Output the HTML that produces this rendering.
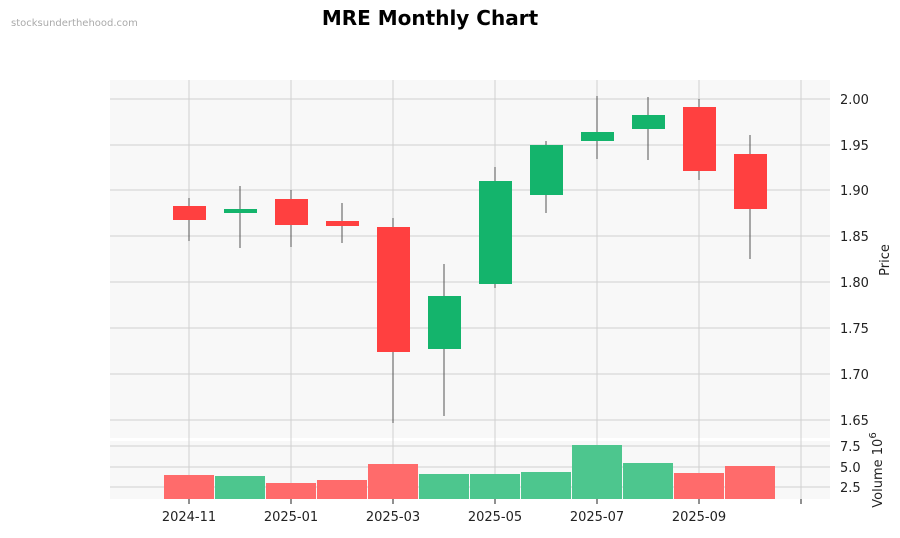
<!DOCTYPE html>
<html><head><meta charset="utf-8"><style>
body{margin:0;background:#fff;}
svg text{font-family:"DejaVu Sans","Liberation Sans",sans-serif;}
</style></head><body>
<svg width="900" height="533" xmlns="http://www.w3.org/2000/svg">
<rect width="900" height="533" fill="#fff"/>
<text x="11" y="26" font-size="10" fill="#aaa">stocksunderthehood.com</text>
<text x="430" y="25" font-size="20" font-weight="bold" text-anchor="middle" fill="#000">MRE Monthly Chart</text>
<rect x="110" y="80" width="720" height="358" fill="#f8f8f8"/>
<rect x="110" y="441" width="720" height="58" fill="#f8f8f8"/>
<g stroke="#d0d0d0" stroke-width="1">
<line x1="110" x2="830" y1="99" y2="99"/><line x1="110" x2="830" y1="145" y2="145"/>
<line x1="110" x2="830" y1="190" y2="190"/><line x1="110" x2="830" y1="236" y2="236"/>
<line x1="110" x2="830" y1="282" y2="282"/><line x1="110" x2="830" y1="328" y2="328"/>
<line x1="110" x2="830" y1="374" y2="374"/><line x1="110" x2="830" y1="420" y2="420"/>
<line x1="110" x2="830" y1="446" y2="446"/><line x1="110" x2="830" y1="467" y2="467"/><line x1="110" x2="830" y1="487" y2="487"/>
<line x1="189" x2="189" y1="80" y2="499"/><line x1="291" x2="291" y1="80" y2="499"/>
<line x1="393" x2="393" y1="80" y2="499"/><line x1="495" x2="495" y1="80" y2="499"/>
<line x1="597" x2="597" y1="80" y2="499"/><line x1="699" x2="699" y1="80" y2="499"/>
<line x1="801" x2="801" y1="80" y2="499"/>
</g>
<g stroke="#555" stroke-width="1">
<line x1="189" x2="189" y1="198" y2="241"/><line x1="240" x2="240" y1="186" y2="248"/>
<line x1="291" x2="291" y1="190" y2="247"/><line x1="342" x2="342" y1="203" y2="243"/>
<line x1="393" x2="393" y1="218" y2="423"/><line x1="444" x2="444" y1="264" y2="416"/>
<line x1="495" x2="495" y1="167" y2="288"/><line x1="546" x2="546" y1="141" y2="213"/>
<line x1="597" x2="597" y1="96" y2="159"/><line x1="648" x2="648" y1="97" y2="160"/>
<line x1="699" x2="699" y1="99" y2="180"/><line x1="750" x2="750" y1="135" y2="259"/>
</g>
<g>
<rect x="173" y="206" width="33" height="14" fill="#ff4040"/>
<rect x="224" y="209" width="33" height="4" fill="#14b46c"/>
<rect x="275" y="199" width="33" height="26" fill="#ff4040"/>
<rect x="326" y="221" width="33" height="5" fill="#ff4040"/>
<rect x="377" y="227" width="33" height="125" fill="#ff4040"/>
<rect x="428" y="296" width="33" height="53" fill="#14b46c"/>
<rect x="479" y="181" width="33" height="103" fill="#14b46c"/>
<rect x="530" y="145" width="33" height="50" fill="#14b46c"/>
<rect x="581" y="132" width="33" height="9" fill="#14b46c"/>
<rect x="632" y="115" width="33" height="14" fill="#14b46c"/>
<rect x="683" y="107" width="33" height="64" fill="#ff4040"/>
<rect x="734" y="154" width="33" height="55" fill="#ff4040"/>
</g>
<g>
<rect x="164" y="475" width="50" height="24" fill="#ff6b6b"/>
<rect x="215" y="476" width="50" height="23" fill="#4dc68e"/>
<rect x="266" y="483" width="50" height="16" fill="#ff6b6b"/>
<rect x="317" y="480" width="50" height="19" fill="#ff6b6b"/>
<rect x="368" y="464" width="50" height="35" fill="#ff6b6b"/>
<rect x="419" y="474" width="50" height="25" fill="#4dc68e"/>
<rect x="470" y="474" width="50" height="25" fill="#4dc68e"/>
<rect x="521" y="472" width="50" height="27" fill="#4dc68e"/>
<rect x="572" y="445" width="50" height="54" fill="#4dc68e"/>
<rect x="623" y="463" width="50" height="36" fill="#4dc68e"/>
<rect x="674" y="473" width="50" height="26" fill="#ff6b6b"/>
<rect x="725" y="466" width="50" height="33" fill="#ff6b6b"/>
</g>
<g font-size="13" fill="#222">
<text x="840" y="104">2.00</text><text x="840" y="150">1.95</text><text x="840" y="195">1.90</text>
<text x="840" y="241">1.85</text><text x="840" y="287">1.80</text><text x="840" y="333">1.75</text>
<text x="840" y="379">1.70</text><text x="840" y="425">1.65</text>
<text x="840" y="451">7.5</text><text x="840" y="472">5.0</text><text x="840" y="492">2.5</text>
</g>
<g stroke="#222"><line x1="189" x2="189" y1="499" y2="504"/><line x1="291" x2="291" y1="499" y2="504"/><line x1="393" x2="393" y1="499" y2="504"/><line x1="495" x2="495" y1="499" y2="504"/><line x1="597" x2="597" y1="499" y2="504"/><line x1="699" x2="699" y1="499" y2="504"/><line x1="801" x2="801" y1="499" y2="504"/></g>
<g font-size="13" fill="#222" text-anchor="middle">
<text x="189" y="521">2024-11</text><text x="291" y="521">2025-01</text><text x="393" y="521">2025-03</text>
<text x="495" y="521">2025-05</text><text x="597" y="521">2025-07</text><text x="699" y="521">2025-09</text>
</g>
<text transform="translate(889,260) rotate(-90)" font-size="13" text-anchor="middle" fill="#222">Price</text>
<text transform="translate(882,470) rotate(-90)" font-size="13" text-anchor="middle" fill="#222">Volume  10<tspan dy="-6" font-size="10">6</tspan></text>
</svg>
</body></html>
